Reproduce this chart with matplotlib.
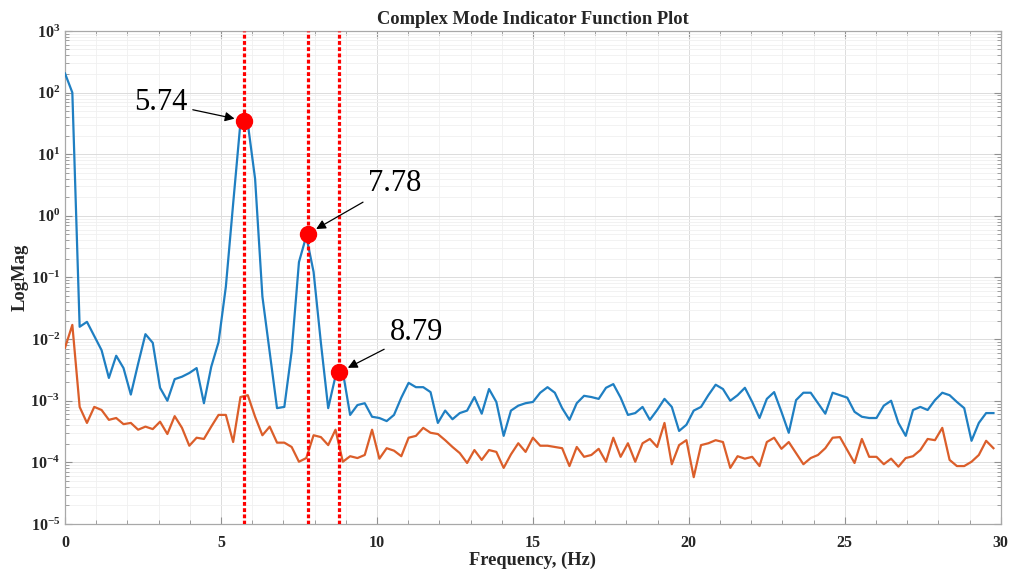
import numpy as np
import matplotlib.pyplot as plt
from matplotlib.ticker import LogLocator, MultipleLocator, NullFormatter

plt.rcParams['font.family'] = ['Liberation Serif', 'DejaVu Serif']
plt.rcParams['font.weight'] = 'bold'
plt.rcParams['mathtext.fontset'] = 'custom'
plt.rcParams['mathtext.rm'] = 'Liberation Serif:bold'
plt.rcParams['mathtext.it'] = 'Liberation Serif:bold'
plt.rcParams['mathtext.bf'] = 'Liberation Serif:bold'

# CMIF singular values, log10 magnitude per frequency line
df = 30 / 128
blue_log = [
    2.31, 2.0, -1.80, -1.72, -1.95, -2.18, -2.63, -2.27, -2.47, -2.9,
    -2.4, -1.92, -2.06, -2.79, -3.0, -2.65, -2.61, -2.55, -2.47, -3.04,
    -2.45, -2.05, -1.15, 0.2, 1.52, 1.50, 0.6, -1.31, -2.22, -3.12,
    -3.1, -2.2, -0.75, -0.33, -0.91, -2.06, -3.12, -2.6, -2.53, -3.23,
    -3.07, -3.04, -3.26, -3.28, -3.33, -3.23, -2.95, -2.71, -2.78, -2.78,
    -2.86, -3.36, -3.16, -3.30, -3.2, -3.16, -2.94, -3.21, -2.81, -3.02,
    -3.57, -3.16, -3.08, -3.04, -3.02, -2.87, -2.78, -2.87, -3.12, -3.31,
    -3.04, -2.92, -2.94, -2.97, -2.79, -2.73, -2.95, -3.23, -3.2, -3.10,
    -3.31, -3.15, -2.97, -3.10, -3.49, -3.39, -3.16, -3.10, -2.91, -2.74,
    -2.81, -3.0, -2.91, -2.79, -3.02, -3.28, -2.97, -2.86, -3.18, -3.52,
    -2.99, -2.87, -2.87, -3.04, -3.21, -2.87, -2.91, -2.95, -3.18, -3.26,
    -3.28, -3.28, -3.08, -3.0, -3.36, -3.57, -3.15, -3.10, -3.15, -2.99,
    -2.87, -2.91, -3.02, -3.12, -3.65, -3.36, -3.2, -3.2,
]
orange_log = [
    -2.14, -1.77, -3.1, -3.36, -3.1, -3.15, -3.31, -3.28, -3.38, -3.36,
    -3.47, -3.42, -3.46, -3.34, -3.54, -3.25, -3.44, -3.73, -3.6, -3.62,
    -3.42, -3.23, -3.23, -3.67, -2.94, -2.91, -3.26, -3.56, -3.42, -3.68,
    -3.68, -3.75, -3.99, -3.93, -3.56, -3.59, -3.72, -3.47, -3.99, -3.9,
    -3.93, -3.88, -3.47, -3.94, -3.77, -3.81, -3.9, -3.6, -3.57, -3.44,
    -3.52, -3.54, -3.64, -3.75, -3.85, -4.01, -3.8, -3.96, -3.8, -3.83,
    -4.09, -3.87, -3.69, -3.83, -3.6, -3.73, -3.73, -3.75, -3.77, -4.06,
    -3.75, -3.91, -3.88, -3.78, -3.99, -3.6, -3.91, -3.69, -3.99, -3.69,
    -3.62, -3.75, -3.36, -4.03, -3.72, -3.64, -4.24, -3.72, -3.69, -3.64,
    -3.67, -4.09, -3.9, -3.94, -3.91, -4.06, -3.67, -3.6, -3.78, -3.67,
    -3.85, -4.03, -3.93, -3.88, -3.77, -3.6, -3.59, -3.8, -4.01, -3.62,
    -3.91, -3.91, -4.03, -3.94, -4.07, -3.93, -3.9, -3.8, -3.62, -3.64,
    -3.44, -3.96, -4.06, -4.06, -3.99, -3.88, -3.65, -3.77,
]

# picked modes
peak_freq = [5.74, 7.78, 8.79]
peak_mag = [35, 0.51, 0.0029]
peak_text = ['5.74', '7.78', '8.79']
text_pos = [(3.92, 68), (9.72, 3.3), (10.4, 0.0126)]
text_ha = ['right', 'left', 'left']

freq = np.arange(len(blue_log)) * df
blue = 10.0 ** np.array(blue_log)
orange = 10.0 ** np.array(orange_log)

fig = plt.figure(figsize=(10.16, 5.74), dpi=100)
ax = fig.add_axes([0.064, 0.0871, 0.921, 0.859])

ax.semilogy(freq, blue, color='#1f7fc2', lw=1.6, zorder=3)
ax.semilogy(freq, orange, color='#db5e2a', lw=1.6, zorder=3)

for f in peak_freq:
    ax.axvline(f, color='#ff0000', lw=2.3, ls=(0, (1.2, 0.75)), zorder=4)

ax.plot(peak_freq, peak_mag, 'o', color='#ff0000', ms=11.5, zorder=5)

for f, m, t, pos, ha in zip(peak_freq, peak_mag, peak_text, text_pos, text_ha):
    ax.annotate(t, xy=(f, m), xytext=pos, ha=ha, va='center',
                fontsize=22, fontweight='normal', color='black',
                arrowprops=dict(arrowstyle='-|>', color='black', lw=0.9,
                                mutation_scale=14, shrinkA=2, shrinkB=7),
                zorder=6)

ax.set_xlim(0, 30)
ax.set_ylim(1e-5, 1e3)
ax.xaxis.set_major_locator(MultipleLocator(5))
ax.xaxis.set_minor_locator(MultipleLocator(1))
ax.yaxis.set_major_locator(LogLocator(base=10, numticks=20))
ax.yaxis.set_minor_locator(LogLocator(base=10, subs=np.arange(2, 10), numticks=100))
ax.yaxis.set_minor_formatter(NullFormatter())

ax.grid(which='major', color='#dcdcdc', lw=0.7)
ax.grid(which='minor', color='#f0f0f0', lw=0.6)
ax.set_axisbelow(True)

for s in ax.spines.values():
    s.set_color('#a8a8a8')
    s.set_linewidth(0.9)
ax.tick_params(which='both', direction='in', top=True, right=True,
               color='#909090', labelsize=11.5, labelcolor='#262626')
ax.tick_params(which='major', length=5)
ax.tick_params(which='minor', length=3)
ax.tick_params(axis='x', pad=8)

ax.set_title('Complex Mode Indicator Function Plot', fontsize=13.3,
             fontweight='bold', color='#262626', pad=5)
ax.set_xlabel('Frequency, (Hz)', fontsize=13.2, fontweight='bold', color='#262626', labelpad=0.5)
ax.set_ylabel('LogMag', fontsize=13.4, fontweight='bold', color='#262626', labelpad=1)

fig.savefig('out.png', dpi=100)
